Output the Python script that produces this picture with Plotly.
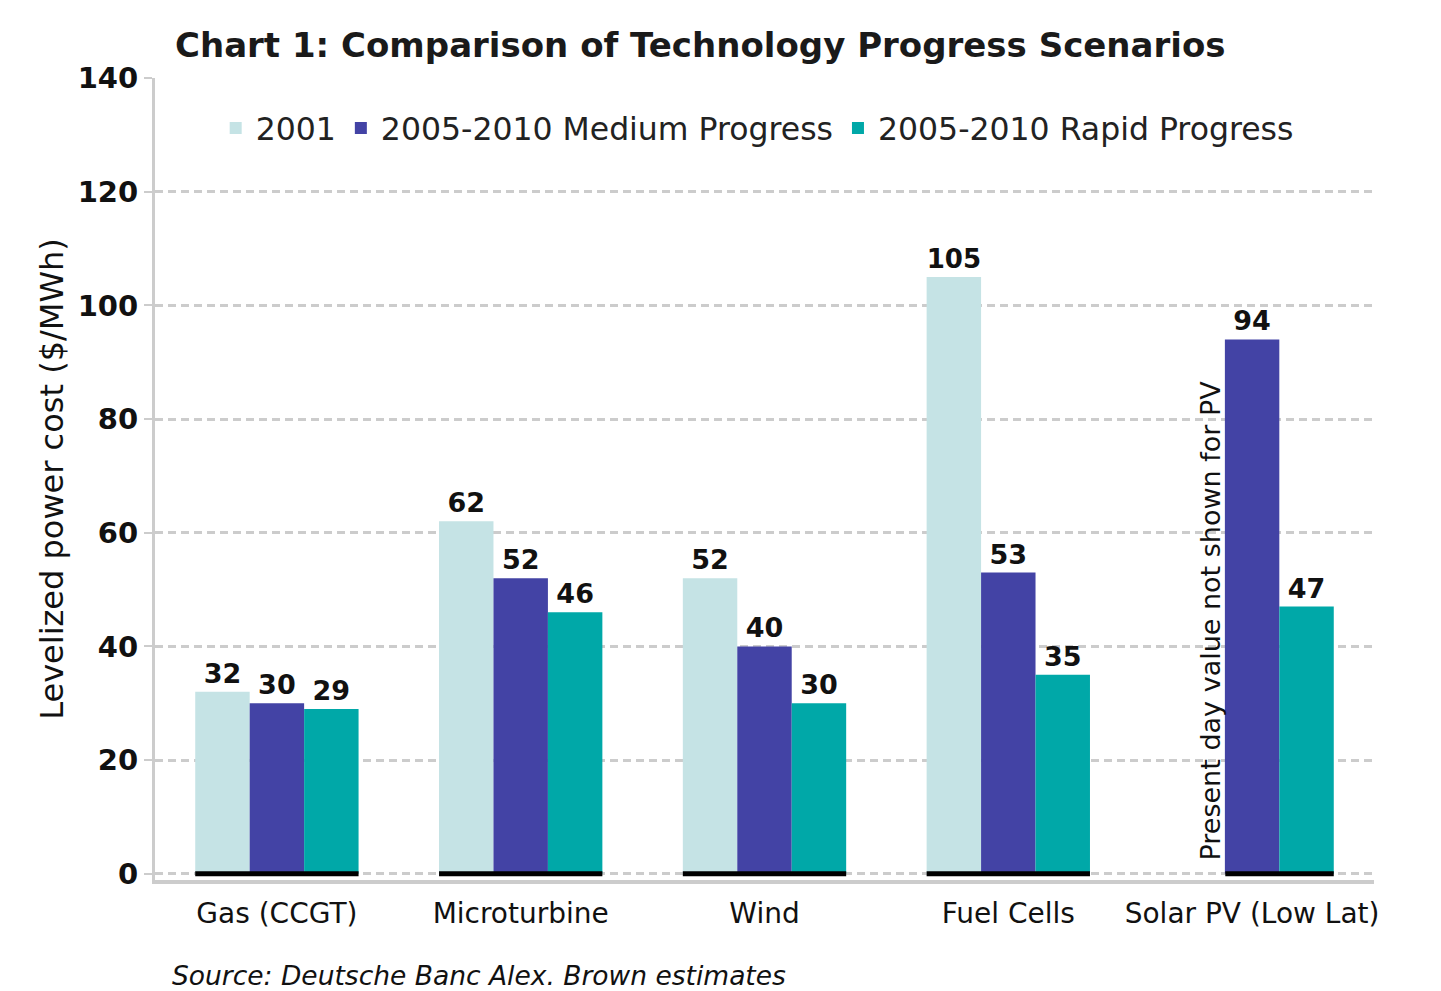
import plotly.graph_objects as go

# Chart data
categories = ['Gas (CCGT)', 'Microturbine', 'Wind', 'Fuel Cells', 'Solar PV (Low Lat)']
series_names = ['2001', '2005-2010 Medium Progress', '2005-2010 Rapid Progress']
cost_2001 = [32, 62, 52, 105, None]
cost_medium = [30, 52, 40, 53, 94]
cost_rapid = [29, 46, 30, 35, 47]
y_ticks = [0, 20, 40, 60, 80, 100, 120, 140]

colors = ['#C5E3E5', '#4343A5', '#00A8A8']
FONT = 'DejaVu Sans, Liberation Sans, Arial, sans-serif'

data = []
for name, vals, color in zip(series_names, [cost_2001, cost_medium, cost_rapid], colors):
    data.append(
        go.Bar(
            x=categories,
            y=vals,
            name=name,
            marker=dict(color=color, line=dict(width=0)),
            text=[('' if v is None else str(v)) for v in vals],
            textposition='outside',
            textfont=dict(family=FONT, size=27, color='#111111', weight='bold'),
            cliponaxis=False,
        )
    )

fig = go.Figure(data=data)

# Black base line under each group of bars.
for i, cat in enumerate(categories):
    x0 = i - 0.335 if cost_2001[i] is not None else i - 0.11
    fig.add_shape(type='line', xref='x', yref='y', x0=x0, x1=i + 0.335, y0=0, y1=0,
                  line=dict(color='#000000', width=5), layer='above')

fig.update_layout(
    width=1441,
    height=991,
    plot_bgcolor='white',
    paper_bgcolor='white',
    barmode='group',
    bargap=0.33,
    bargroupgap=0,
    margin=dict(l=147, r=75, t=70, b=119, pad=0, autoexpand=False),
    font=dict(family=FONT, size=22, color='#111111'),
    title=dict(
        text='<b>Chart 1: Comparison of Technology Progress Scenarios</b>',
        x=167 / 1441, xanchor='left', y=1 - 37 / 991, yanchor='middle',
        font=dict(family=FONT, size=34, color='#1a1a1a'),
    ),
    legend=dict(
        orientation='h', x=0.494, xanchor='center', y=0.9377, yanchor='middle',
        font=dict(family=FONT, size=31.5, color='#222222'),
        itemwidth=30, traceorder='normal', bgcolor='rgba(0,0,0,0)',
    ),
    xaxis=dict(
        showgrid=False,
        zeroline=False,
        showline=True,
        linecolor='#CCCCCC',
        linewidth=4,
        ticks='',
        ticklabelstandoff=5,
        tickfont=dict(family=FONT, size=28, color='#111111'),
        fixedrange=True,
        automargin=False,
    ),
    yaxis=dict(
        range=[-1.1, 140],
        tickvals=y_ticks,
        showgrid=True,
        gridcolor='#CCCCCC',
        gridwidth=2.5,
        griddash='8px,5px',
        zeroline=False,
        showline=True,
        linecolor='#CCCCCC',
        linewidth=3,
        ticks='outside',
        ticklen=8,
        tickcolor='#CCCCCC',
        tickwidth=2,
        tickfont=dict(family=FONT, size=29, color='#111111', weight='bold'),
        title=dict(text='Levelized power cost ($/MWh)', standoff=5,
                   font=dict(family=FONT, size=32, color='#111111')),
        fixedrange=True,
        automargin=False,
    ),
)

# Note for the missing 2001 PV value.
fig.add_annotation(
    x=categories[4], y=2, xref='x', yref='y', xshift=-42,
    text='Present day value not shown for PV', textangle=-90,
    showarrow=False, xanchor='center', yanchor='bottom',
    font=dict(family=FONT, size=27, color='#111111'),
)

# Source line.
fig.add_annotation(
    x=0.0123, y=-0.1185, xref='paper', yref='paper', text='<i>Source: Deutsche Banc Alex. Brown estimates</i>',
    showarrow=False, xanchor='left', yanchor='middle',
    font=dict(family=FONT, size=26.5, color='#111111'),
)

fig.write_html('out.html')
